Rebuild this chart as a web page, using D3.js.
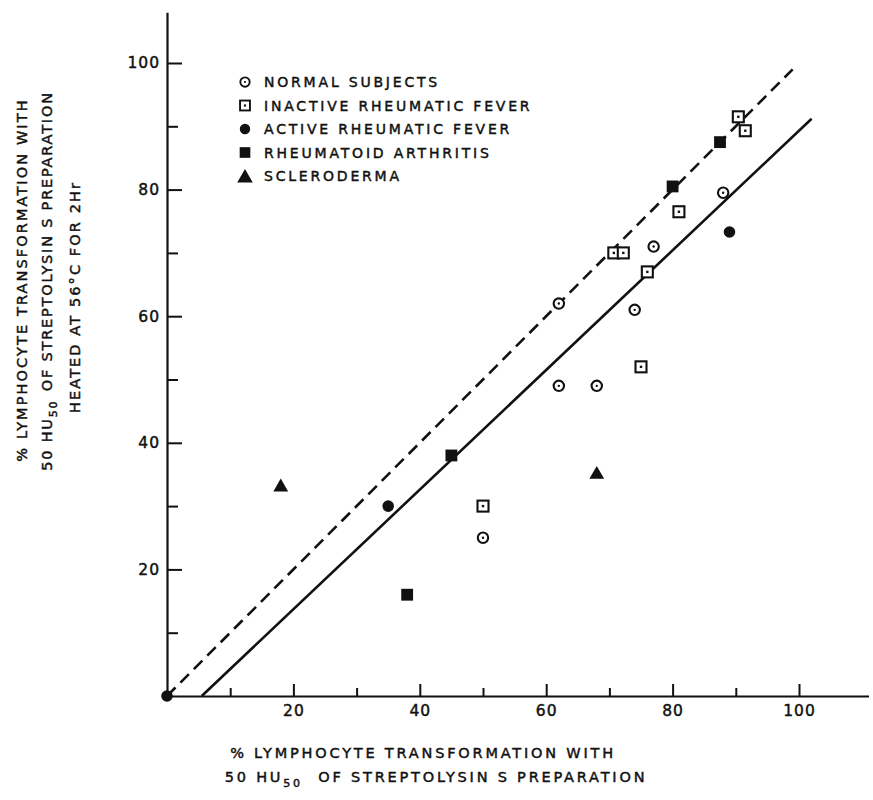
<!DOCTYPE html>
<html>
<head>
<meta charset="utf-8">
<script src="https://cdn.jsdelivr.net/npm/d3@7"></script>
<style>
  body { margin: 0; background: #fff; }
  text { font-family: "DejaVu Sans", sans-serif; fill: #111; stroke: #111; stroke-width: 0.45px; }
</style>
</head>
<body>
<div id="chart"></div>
<script>
// data: [x, y] in % transformation
const normalSubjects = [[50, 25], [62, 49], [68, 49], [62, 62], [74, 61], [77, 71], [88, 79.5]];
const inactiveRF = [[50, 30], [70.7, 70], [72.2, 70], [75, 52], [76, 67], [81, 76.5], [90.4, 91.5], [91.5, 89.3]];
const activeRF = [[0, 0], [35, 30], [89, 73.3]];
const rheumatoidArthritis = [[38, 16], [45, 38], [80, 80.5], [87.5, 87.5]];
const scleroderma = [[18, 33], [68, 35]];

const legendLabels = ["NORMAL SUBJECTS", "INACTIVE RHEUMATIC FEVER", "ACTIVE RHEUMATIC FEVER",
    "RHEUMATOID ARTHRITIS", "SCLERODERMA"];

const majorTicks = [20, 40, 60, 80, 100];
const minorTicks = [10, 30, 50, 70, 90];

// identity line and fitted regression line
const dashedLine = [[0, 0], [99, 99]];
const solidLine = [[5.5, 0], [102, 91.2]];

function chart_all(container){
    const width = 873;
    const height = 800;

    // Declare the positional encodings.
    const x = d3.scaleLinear()
        .domain([0, 111])
        .range([167, 167 + 111 * 6.32]);

    const y = d3.scaleLinear()
        .domain([0, 108])
        .range([696, 696 - 108 * 6.33]);

    const svg = d3.select(container).append("svg")
        .attr("width", width)
        .attr("height", height)
        .attr("viewBox", [0, 0, width, height]);

    // axes, ticks pointing inwards
    svg.append("g")
        .attr("transform", `translate(0,${y(0)})`)
        .call(d3.axisBottom(x).tickValues(minorTicks).tickSizeInner(-8).tickSizeOuter(0).tickFormat(""))
        .call(g => g.select(".domain").remove());

    svg.append("g")
        .attr("transform", `translate(0,${y(0)})`)
        .call(d3.axisBottom(x).tickValues(majorTicks).tickSizeInner(-12).tickSizeOuter(0).tickPadding(9))
        .call(g => g.selectAll("text")
            .style("font-size", "15.5px")
            .style("letter-spacing", "1px"));

    svg.append("g")
        .attr("transform", `translate(${x(0)},0)`)
        .call(d3.axisLeft(y).tickValues(minorTicks).tickSizeInner(-11).tickSizeOuter(0).tickFormat(""))
        .call(g => g.select(".domain").remove());

    svg.append("g")
        .attr("transform", `translate(${x(0)},0)`)
        .call(d3.axisLeft(y).tickValues(majorTicks).tickSizeInner(-15).tickSizeOuter(0).tickPadding(7))
        .call(g => g.selectAll("text")
            .style("font-size", "15.5px")
            .style("letter-spacing", "1px"));

    svg.selectAll(".tick line").attr("stroke", "#111").attr("stroke-width", 2);
    svg.selectAll(".domain").attr("stroke", "#111").attr("stroke-width", 2.2);

    // reference lines
    const line = d3.line(d => x(d[0]), d => y(d[1]));

    svg.append("path")
        .attr("d", line(dashedLine))
        .attr("fill", "none")
        .attr("stroke", "#111")
        .attr("stroke-width", 2.6)
        .attr("stroke-dasharray", "12,7");

    svg.append("path")
        .attr("d", line(solidLine))
        .attr("fill", "none")
        .attr("stroke", "#111")
        .attr("stroke-width", 2.6);

    // marker painters
    const openCircle = (g) => {
        g.append("circle").attr("r", 5.2).attr("fill", "#fff").attr("stroke", "#111").attr("stroke-width", 2.1);
        g.append("circle").attr("r", 1.2).attr("fill", "#111");
    };
    const openSquare = (g) => {
        g.append("rect").attr("x", -5.5).attr("y", -5.5).attr("width", 11).attr("height", 11)
            .attr("fill", "#fff").attr("stroke", "#111").attr("stroke-width", 2.1);
        g.append("rect").attr("x", -1.2).attr("y", -1.2).attr("width", 2.4).attr("height", 2.4).attr("fill", "#111");
    };
    const filled = (type, size) => (g) => {
        g.append("path").attr("d", d3.symbol(type, size)()).attr("fill", "#111");
    };

    const groups = [
        {data: normalSubjects, draw: openCircle},
        {data: inactiveRF, draw: openSquare},
        {data: activeRF, draw: filled(d3.symbolCircle, 105)},
        {data: rheumatoidArthritis, draw: filled(d3.symbolSquare, 140)},
        {data: scleroderma, draw: filled(d3.symbolTriangle, 95)}
    ];

    groups.forEach(s => {
        svg.append("g")
            .selectAll("g")
            .data(s.data)
            .join("g")
                .attr("transform", d => `translate(${x(d[0])},${y(d[1])})`)
                .each(function(){ s.draw(d3.select(this)); });
    });

    // legend
    const legend = svg.append("g").attr("transform", "translate(245,82)");
    groups.forEach((s, i) => {
        const row = legend.append("g").attr("transform", `translate(0,${i * 23.5})`);
        const mk = row.append("g").attr("transform", i === 4 ? "translate(0,2) scale(1.05)" : "scale(0.9)");
        s.draw(mk);
        row.append("text")
            .attr("x", 19)
            .attr("dy", "0.36em")
            .style("font-size", "14px")
            .style("letter-spacing", "2.8px")
            .text(legendLabels[i]);
    });

    // axis titles: "50 HU" + subscript "50" + rest
    const title = (g, gap) => {
        g.append("tspan").text("50 HU");
        g.append("tspan").attr("dy", 5).style("font-size", "11px").text("50");
        g.append("tspan").attr("dy", -5).attr("dx", gap).text(" OF STREPTOLYSIN S PREPARATION");
    };

    const xt = svg.append("g")
        .attr("text-anchor", "middle")
        .style("font-size", "14.5px")
        .style("letter-spacing", "2.8px");
    xt.append("text").attr("x", 423).attr("y", 758).text("% LYMPHOCYTE TRANSFORMATION WITH");
    title(xt.append("text").attr("x", 436).attr("y", 782), 8);

    const yt = svg.append("g")
        .attr("text-anchor", "middle")
        .style("font-size", "14.5px")
        .style("letter-spacing", "2.1px");
    yt.append("text").attr("transform", "translate(27,280) rotate(-90)")
        .text("% LYMPHOCYTE TRANSFORMATION WITH");
    title(yt.append("text").attr("transform", "translate(52,281) rotate(-90)").style("letter-spacing", "1.8px"), 2);
    yt.append("text").attr("transform", "translate(80,297) rotate(-90)")
        .text("HEATED AT 56°C FOR 2Hr");
}

chart_all("#chart");
</script>
</body>
</html>
